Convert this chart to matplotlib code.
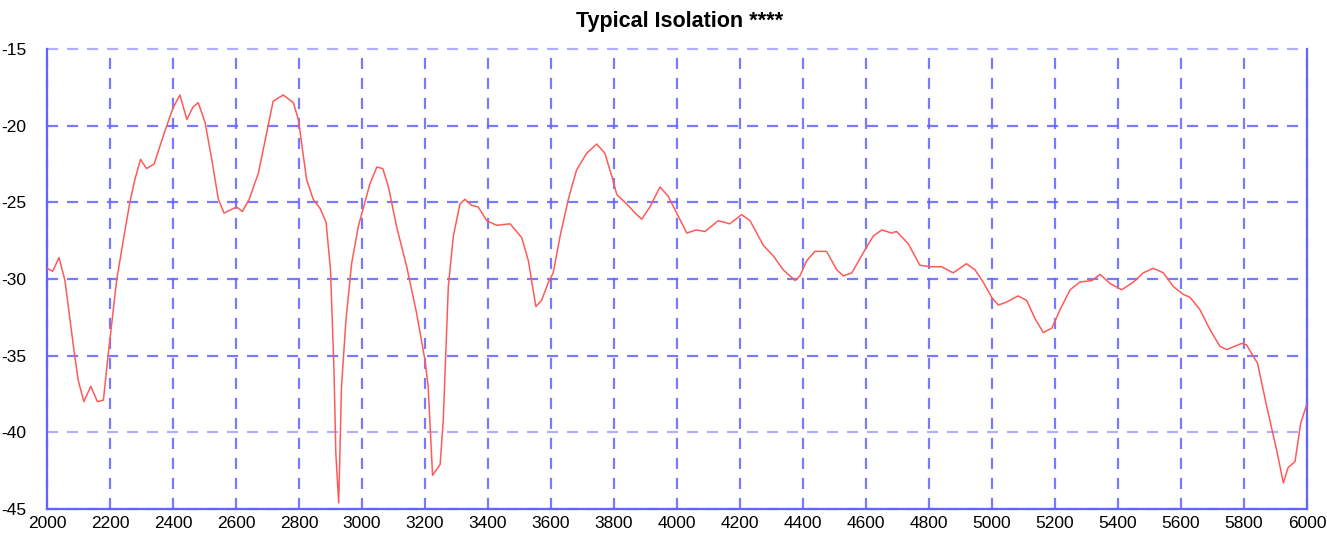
"""
Typical Isolation グラフ再現
"""

import matplotlib
matplotlib.use("Agg")
import matplotlib.pyplot as plt
from matplotlib.ticker import FuncFormatter

plt.rcParams["font.family"] = ["Liberation Sans", "DejaVu Sans"]
plt.rcParams["axes.unicode_minus"] = False

# ===== データ（周波数 MHz / アイソレーション dB） =====
freq = [
    2000, 2018, 2038, 2057, 2084, 2099, 2117, 2139, 2160, 2179, 2195, 2221,
    2242, 2263, 2279, 2297, 2316, 2340, 2375, 2401, 2422, 2444, 2463, 2480,
    2502, 2523, 2544, 2562, 2602, 2620, 2642, 2671, 2708, 2718, 2750, 2782,
    2798, 2824, 2845, 2867, 2886, 2900, 2911, 2917, 2926, 2935, 2949, 2967,
    2988, 3025, 3047, 3066, 3084, 3110, 3142, 3173, 3200, 3210, 3224, 3248,
    3258, 3274, 3290, 3311, 3327, 3348, 3369, 3396, 3428, 3470, 3507, 3528,
    3552, 3570, 3592, 3607, 3629, 3655, 3681, 3713, 3745, 3771, 3793, 3809,
    3840, 3867, 3888, 3914, 3946, 3972, 4004, 4031, 4062, 4089, 4131, 4168,
    4205, 4232, 4274, 4306, 4337, 4375, 4390, 4412, 4438, 4475, 4507, 4528,
    4555, 4591, 4623, 4650, 4681, 4697, 4734, 4771, 4803, 4840, 4877, 4919,
    4946, 4972, 4999, 5020, 5047, 5083, 5110, 5137, 5163, 5190, 5216, 5248,
    5279, 5317, 5343, 5375, 5412, 5449, 5480, 5512, 5544, 5576, 5607, 5629,
    5660, 5692, 5724, 5745, 5793, 5808, 5843, 5872, 5904, 5925, 5940, 5962,
    5980, 5999,
]
isolation = [
    -29.3, -29.5, -28.6, -30.1, -34.4, -36.6, -38.0, -37.0, -38.0, -37.9, -34.8, -30.1,
    -27.5, -25.0, -23.5, -22.2, -22.8, -22.5, -20.3, -18.8, -18.0, -19.6, -18.8, -18.5,
    -19.8, -22.2, -24.8, -25.7, -25.3, -25.6, -24.8, -23.1, -19.4, -18.4, -18.0, -18.5,
    -19.6, -23.5, -24.8, -25.4, -26.3, -29.4, -35.9, -41.4, -44.6, -37.0, -32.7, -29.0,
    -26.6, -23.8, -22.7, -22.8, -24.0, -26.6, -29.2, -32.2, -35.3, -37.0, -42.8, -42.1,
    -39.2, -30.5, -27.2, -25.1, -24.8, -25.2, -25.3, -26.2, -26.5, -26.4, -27.3, -28.8,
    -31.8, -31.4, -30.2, -29.6, -27.2, -24.8, -22.9, -21.8, -21.2, -21.8, -23.3, -24.5,
    -25.1, -25.7, -26.1, -25.3, -24.0, -24.6, -25.9, -27.0, -26.8, -26.9, -26.2, -26.4,
    -25.8, -26.2, -27.8, -28.5, -29.4, -30.1, -29.8, -28.8, -28.2, -28.2, -29.4, -29.8,
    -29.6, -28.3, -27.2, -26.8, -27.0, -26.9, -27.7, -29.1, -29.2, -29.2, -29.6, -29.0,
    -29.4, -30.2, -31.2, -31.7, -31.5, -31.1, -31.4, -32.6, -33.5, -33.2, -32.0, -30.7,
    -30.2, -30.1, -29.7, -30.3, -30.7, -30.2, -29.6, -29.3, -29.6, -30.5, -31.0, -31.2,
    -32.0, -33.3, -34.4, -34.6, -34.2, -34.3, -35.5, -38.3, -41.2, -43.3, -42.3, -41.9,
    -39.4, -38.2,
]
x_ticks = list(range(2000, 6001, 200))
y_ticks = [-15, -20, -25, -30, -35, -40, -45]

BLUE = "#6363ff"

fig = plt.figure(figsize=(13.27, 5.4), dpi=100)
ax = fig.add_axes([47 / 1327, 1 - 509 / 540, 1260 / 1327, 460 / 540])

ax.plot(freq, isolation, color="#ff5a5a", linewidth=1.1, zorder=3)

ax.set_xlim(2000, 6000)
ax.set_ylim(-45, -15)
ax.set_xticks(x_ticks)
ax.set_yticks(y_ticks)
ax.yaxis.set_major_formatter(FuncFormatter(lambda v, p: f"{int(v)}"))

# グリッド（青の破線）
ax.grid(True, color=BLUE, linestyle=(0, (5, 4)), linewidth=1.6, alpha=0.85, zorder=1)
for gl in ax.get_xgridlines() + ax.get_ygridlines():
    gl.set_clip_on(False)
# 上端と下から2本目は薄め
ax.get_ygridlines()[0].set_alpha(0.5)
ax.get_ygridlines()[5].set_alpha(0.5)

for side in ["left", "bottom", "right"]:
    ax.spines[side].set_color(BLUE)
    ax.spines[side].set_linewidth(1.6)
ax.spines["top"].set_visible(False)

ax.tick_params(axis="both", length=0, labelsize=12.5, colors="black")
ax.tick_params(axis="x", pad=5)
ax.tick_params(axis="y", pad=15)

fig.text(680 / 1327, 1 - 21 / 540, "Typical Isolation ****", ha="center", va="center",
         fontsize=15.5, fontweight="bold")

fig.savefig("out.png", dpi=100, facecolor="white")
